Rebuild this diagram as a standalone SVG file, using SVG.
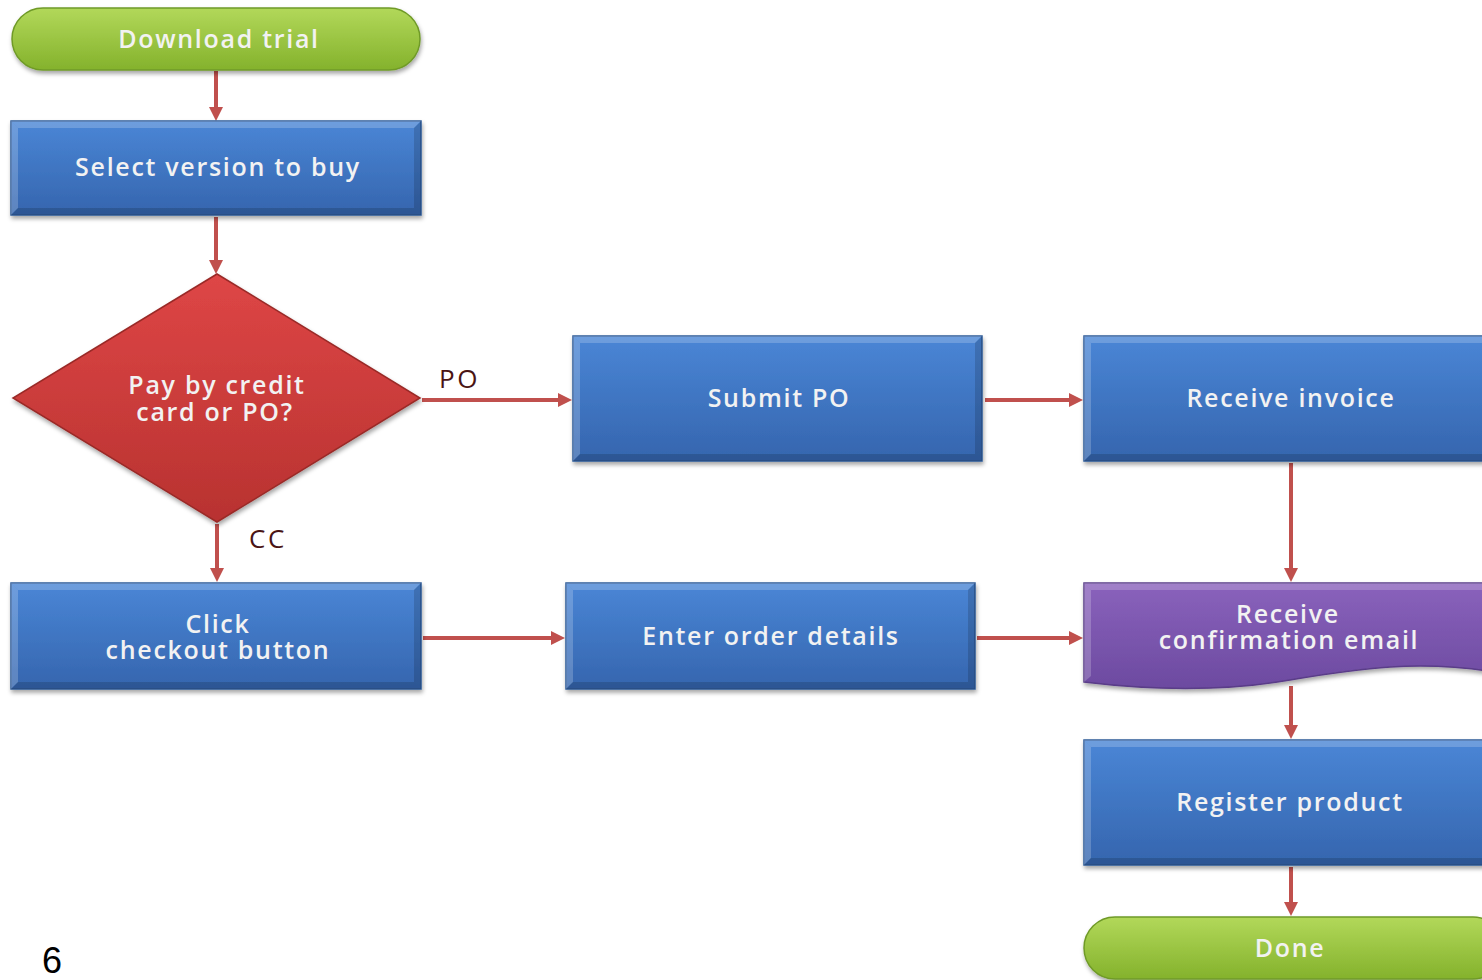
<svg xmlns="http://www.w3.org/2000/svg" width="1482" height="980" viewBox="0 0 1482 980">
<style>
.t{font-family:"Open Sans","Liberation Sans",sans-serif;font-size:25px;font-weight:600;fill:#f2f2f2;text-anchor:middle;letter-spacing:1.7px}
.lbl{font-family:"Open Sans","Liberation Sans",sans-serif;font-size:26px;fill:#4a1414;letter-spacing:2.5px}
.c{fill:none;stroke:#c0504d;stroke-width:4;marker-end:url(#ah)}
.blue{fill:url(#gb);stroke:#2f5b98;stroke-width:1.5;filter:url(#sh)}
.bev{fill:#ffffff;opacity:0.2}
.bevd{fill:#000000;opacity:0.15}
</style>
<defs>
<linearGradient id="gb" x1="0" y1="0" x2="0" y2="1"><stop offset="0" stop-color="#4a86d6"/><stop offset="1" stop-color="#3565ae"/></linearGradient>
<linearGradient id="gg" x1="0" y1="0" x2="0" y2="1"><stop offset="0" stop-color="#b2d85a"/><stop offset="1" stop-color="#84b22c"/></linearGradient>
<linearGradient id="gr" x1="0" y1="0" x2="0" y2="1"><stop offset="0" stop-color="#de4646"/><stop offset="1" stop-color="#b83230"/></linearGradient>
<linearGradient id="gp" x1="0" y1="0" x2="0" y2="1"><stop offset="0" stop-color="#8a62bc"/><stop offset="1" stop-color="#6c4aa0"/></linearGradient>
<filter id="sh" x="-5%" y="-5%" width="110%" height="120%"><feDropShadow dx="1" dy="3" stdDeviation="2" flood-color="#000" flood-opacity="0.35"/></filter>
<marker id="ah" markerWidth="14" markerHeight="14" refX="10" refY="7" orient="auto" markerUnits="userSpaceOnUse" viewBox="0 0 14 14"><path d="M0,0 L14,7 L0,14 Z" fill="#c0504d"/></marker>
</defs>

<g id="connectors">
<line class="c" x1="216" y1="71" x2="216" y2="117"/>
<line class="c" x1="216" y1="217" x2="216" y2="270"/>
<line class="c" x1="422" y1="400" x2="568" y2="400"/>
<line class="c" x1="985" y1="400" x2="1079" y2="400"/>
<line class="c" x1="1291" y1="463" x2="1291" y2="578"/>
<line class="c" x1="217" y1="524" x2="217" y2="578"/>
<line class="c" x1="423" y1="638" x2="561" y2="638"/>
<line class="c" x1="977" y1="638" x2="1079" y2="638"/>
<line class="c" x1="1291" y1="686" x2="1291" y2="735"/>
<line class="c" x1="1291" y1="867" x2="1291" y2="912"/>
<text class="lbl" x="439" y="388">PO</text>
<text class="lbl" x="249" y="548">CC</text>
</g>

<g id="download">
<rect x="12" y="8" width="408" height="62" rx="31" fill="url(#gg)" stroke="#6f9a28" stroke-width="1.5" filter="url(#sh)"/>
<text class="t" x="219" y="48">Download trial</text>
</g>

<g id="select">
<rect class="blue" x="11" y="121" width="410" height="94"/>
<polygon class="bev" points="11,121 421,121 414,128 18,128"/>
<polygon class="bev" points="11,121 18,128 18,208 11,215"/>
<polygon class="bevd" points="11,215 421,215 414,208 18,208"/>
<polygon class="bevd" points="421,121 421,215 414,208 414,128"/>
<text class="t" x="218" y="176">Select version to buy</text>
</g>

<g id="decision">
<polygon points="217,274 420,398 217,522 13,398" fill="url(#gr)" stroke="#9a2a28" stroke-width="1.5" filter="url(#sh)"/>
<text class="t"><tspan x="217" y="394">Pay by credit</tspan><tspan x="215" y="421">card or PO?</tspan></text>
</g>

<g id="submit">
<rect class="blue" x="573" y="336" width="409" height="125"/>
<polygon class="bev" points="573,336 982,336 975,343 580,343"/>
<polygon class="bev" points="573,336 580,343 580,454 573,461"/>
<polygon class="bevd" points="573,461 982,461 975,454 580,454"/>
<polygon class="bevd" points="982,336 982,461 975,454 975,343"/>
<text class="t" x="779" y="407">Submit PO</text>
</g>

<g id="invoice">
<rect class="blue" x="1084" y="336" width="410" height="125"/>
<polygon class="bev" points="1084,336 1494,336 1487,343 1091,343"/>
<polygon class="bev" points="1084,336 1091,343 1091,454 1084,461"/>
<polygon class="bevd" points="1084,461 1494,461 1487,454 1091,454"/>
<text class="t" x="1291" y="407">Receive invoice</text>
</g>

<g id="checkout">
<rect class="blue" x="11" y="583" width="410" height="106"/>
<polygon class="bev" points="11,583 421,583 414,590 18,590"/>
<polygon class="bev" points="11,583 18,590 18,682 11,689"/>
<polygon class="bevd" points="11,689 421,689 414,682 18,682"/>
<polygon class="bevd" points="421,583 421,689 414,682 414,590"/>
<text class="t"><tspan x="218" y="633">Click</tspan><tspan x="218" y="659">checkout button</tspan></text>
</g>

<g id="order">
<rect class="blue" x="566" y="583" width="409" height="106"/>
<polygon class="bev" points="566,583 975,583 968,590 573,590"/>
<polygon class="bev" points="566,583 573,590 573,682 566,689"/>
<polygon class="bevd" points="566,689 975,689 968,682 573,682"/>
<polygon class="bevd" points="975,583 975,689 968,682 968,590"/>
<text class="t" x="771" y="645">Enter order details</text>
</g>

<g id="confirm">
<path d="M1084,583 L1494,583 L1494,672 C1420,660 1360,668 1290,680 C1220,692 1150,690 1084,682 Z" fill="url(#gp)" stroke="#5a3c88" stroke-width="1.5" filter="url(#sh)"/>
<polygon points="1084,583 1494,583 1487,590 1091,590" fill="#fff" opacity="0.2"/>
<polygon points="1084,583 1091,590 1091,676 1084,682" fill="#fff" opacity="0.2"/>
<text class="t"><tspan x="1288" y="623">Receive</tspan><tspan x="1289" y="649">confirmation email</tspan></text>
</g>

<g id="register">
<rect class="blue" x="1084" y="740" width="410" height="125"/>
<polygon class="bev" points="1084,740 1494,740 1487,747 1091,747"/>
<polygon class="bev" points="1084,740 1091,747 1091,858 1084,865"/>
<polygon class="bevd" points="1084,865 1494,865 1487,858 1091,858"/>
<text class="t" x="1290" y="811">Register product</text>
</g>

<g id="done">
<rect x="1084" y="917" width="420" height="62" rx="31" fill="url(#gg)" stroke="#6f9a28" stroke-width="1.5" filter="url(#sh)"/>
<text class="t" x="1290" y="957">Done</text>
</g>

<text x="42" y="973" font-family="Liberation Sans, Arial, sans-serif" font-size="36" fill="#000">6</text>
</svg>
